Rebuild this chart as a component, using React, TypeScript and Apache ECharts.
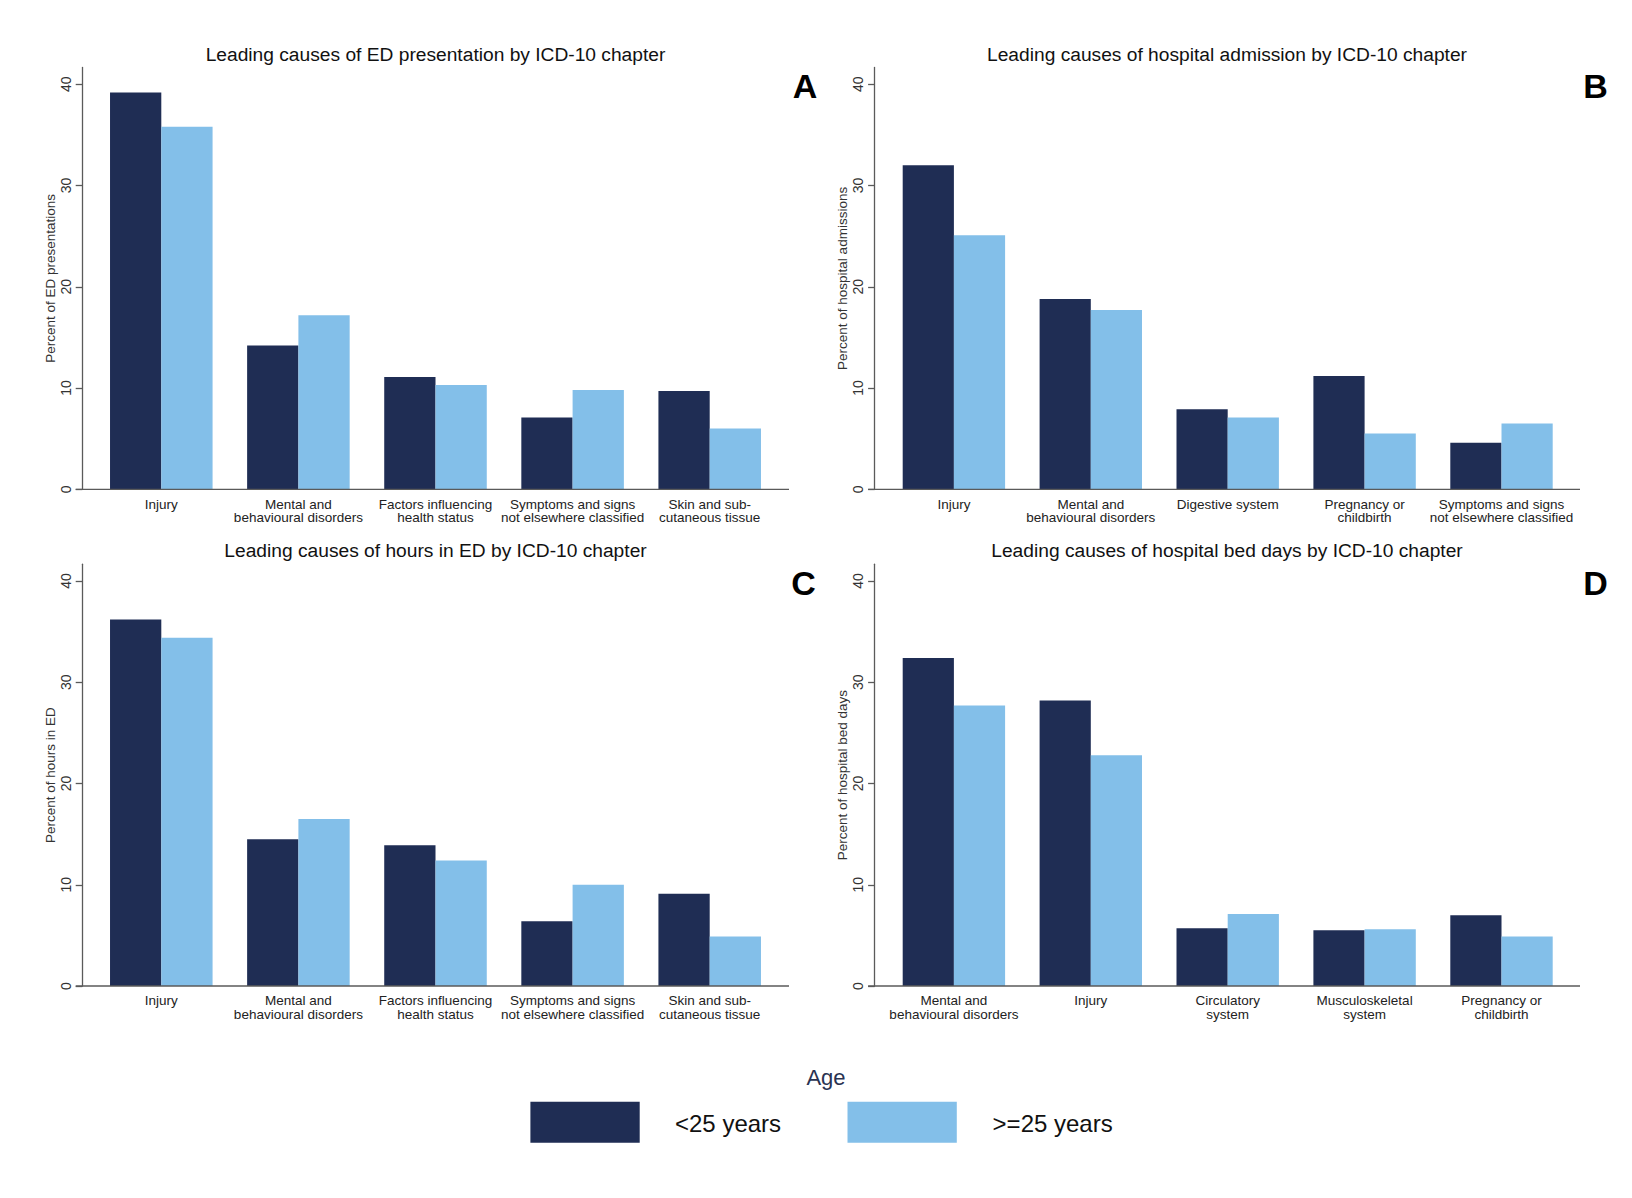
import React, { useEffect, useRef } from "react";
import * as echarts from "echarts";

// ---------- data ----------
const seriesNames = ["<25 years", ">=25 years"];

const panelTitles = [
  "Leading causes of ED presentation by ICD-10 chapter",
  "Leading causes of hospital admission by ICD-10 chapter",
  "Leading causes of hours in ED by ICD-10 chapter",
  "Leading causes of hospital bed days by ICD-10 chapter",
];
const panelLetters = ["A", "B", "C", "D"];
const yAxisNames = [
  "Percent of ED presentations",
  "Percent of hospital admissions",
  "Percent of hours in ED",
  "Percent of hospital bed days",
];

const categoriesA = [
  "Injury",
  "Mental and\nbehavioural disorders",
  "Factors influencing\nhealth status",
  "Symptoms and signs\nnot elsewhere classified",
  "Skin and sub-\ncutaneous tissue",
];
const under25A = [39.2, 14.2, 11.1, 7.1, 9.7];
const over25A = [35.8, 17.2, 10.3, 9.8, 6.0];

const categoriesB = [
  "Injury",
  "Mental and\nbehavioural disorders",
  "Digestive system",
  "Pregnancy or\nchildbirth",
  "Symptoms and signs\nnot elsewhere classified",
];
const under25B = [32.0, 18.8, 7.9, 11.2, 4.6];
const over25B = [25.1, 17.7, 7.1, 5.5, 6.5];

const categoriesC = [
  "Injury",
  "Mental and\nbehavioural disorders",
  "Factors influencing\nhealth status",
  "Symptoms and signs\nnot elsewhere classified",
  "Skin and sub-\ncutaneous tissue",
];
const under25C = [36.2, 14.5, 13.9, 6.4, 9.1];
const over25C = [34.4, 16.5, 12.4, 10.0, 4.9];

const categoriesD = [
  "Mental and\nbehavioural disorders",
  "Injury",
  "Circulatory\nsystem",
  "Musculoskeletal\nsystem",
  "Pregnancy or\nchildbirth",
];
const under25D = [32.4, 28.2, 5.7, 5.5, 7.0];
const over25D = [27.7, 22.8, 7.1, 5.6, 4.9];

const yTicks = [0, 10, 20, 30, 40];
const yMax = 41.66;

// ---------- style / layout ----------
const COLORS = ["#1f2d54", "#83bfe9"];
const FONT = "'Liberation Sans', Arial, Helvetica, sans-serif";
const AXIS_COLOR = "#5a5a5a";

const panelData = [
  { cats: categoriesA, a: under25A, b: over25A },
  { cats: categoriesB, a: under25B, b: over25B },
  { cats: categoriesC, a: under25C, b: over25C },
  { cats: categoriesD, a: under25D, b: over25D },
];

const layout = [
  { axisX: 82.3, gridLeft: 92.75, gridRight: 778.25, axisEnd: 789, zeroY: 489.3, topY: 67.5, titleX: 435.5, titleY: 54, letterX: 805, letterY: 85.5 },
  { axisX: 874.7, gridLeft: 885.45, gridRight: 1569.95, axisEnd: 1580, zeroY: 489.3, topY: 67.5, titleX: 1227, titleY: 54, letterX: 1595.6, letterY: 85.5 },
  { axisX: 82.3, gridLeft: 92.75, gridRight: 778.25, axisEnd: 789, zeroY: 986, topY: 564.2, titleX: 435.5, titleY: 550.6, letterX: 803.5, letterY: 582.9 },
  { axisX: 874.7, gridLeft: 885.45, gridRight: 1569.95, axisEnd: 1580, zeroY: 986, topY: 564.2, titleX: 1227, titleY: 550.6, letterX: 1595.6, letterY: 582.9 },
];

function buildOption() {
  const grid: any[] = [];
  const xAxis: any[] = [];
  const yAxis: any[] = [];
  const series: any[] = [];
  const graphic: any[] = [];

  layout.forEach((L, i) => {
    grid.push({
      left: L.gridLeft,
      top: L.topY,
      width: L.gridRight - L.gridLeft,
      height: L.zeroY - L.topY,
      containLabel: false,
      outerBoundsMode: "none",
    });
    xAxis.push({
      type: "category",
      gridIndex: i,
      data: panelData[i].cats,
      boundaryGap: true,
      axisLine: { show: false },
      axisTick: { show: false },
      splitLine: { show: false },
      axisLabel: {
        interval: 0,
        margin: 8,
        fontFamily: FONT,
        fontSize: 13.5,
        lineHeight: 13.5,
        color: "#222",
        align: "center",
      },
    });
    yAxis.push({
      type: "value",
      gridIndex: i,
      min: 0,
      max: yMax,
      interval: 10,
      offset: L.gridLeft - L.axisX,
      splitLine: { show: false },
      axisLine: { show: true, lineStyle: { color: AXIS_COLOR, width: 1.3 } },
      axisTick: { show: true, length: 6.6, customValues: yTicks, lineStyle: { color: AXIS_COLOR, width: 1.3 } },
      axisLabel: {
        rotate: 90,
        margin: 9.5,
        customValues: yTicks,
        fontFamily: FONT,
        fontSize: 14,
        color: "#333",
      },
      name: yAxisNames[i],
      nameLocation: "middle",
      nameGap: 25,
      nameMoveOverlap: false,
      nameTextStyle: { fontFamily: FONT, fontSize: 13.5, color: "#333" },
    });
    const vals = [panelData[i].a, panelData[i].b];
    vals.forEach((v, k) => {
      series.push({
        type: "bar",
        name: seriesNames[k],
        xAxisIndex: i,
        yAxisIndex: i,
        data: v,
        barGap: "0%",
        barCategoryGap: "25.2%",
        itemStyle: { color: COLORS[k] },
        silent: true,
      });
    });
    // x-axis baseline extending past the plot region like the original
    graphic.push({
      type: "line",
      shape: { x1: L.axisX - 6.6, y1: L.zeroY, x2: L.axisEnd, y2: L.zeroY },
      style: { stroke: AXIS_COLOR, lineWidth: 1.3 },
      z: 10,
    });
    graphic.push({
      type: "text",
      x: L.titleX,
      y: L.titleY,
      style: {
        text: panelTitles[i],
        fontFamily: FONT,
        fontSize: 19.2,
        fill: "#111",
        textAlign: "center",
        textVerticalAlign: "middle",
      },
    });
    graphic.push({
      type: "text",
      x: L.letterX,
      y: L.letterY,
      style: {
        text: panelLetters[i],
        fontFamily: FONT,
        fontSize: 34,
        fontWeight: "bold",
        fill: "#000",
        textAlign: "center",
        textVerticalAlign: "middle",
      },
    });
  });

  // legend
  graphic.push({
    type: "text",
    x: 826,
    y: 1077,
    style: {
      text: "Age",
      fontFamily: FONT,
      fontSize: 22,
      fill: "#2a3352",
      textAlign: "center",
      textVerticalAlign: "middle",
    },
  });
  const legendBoxes = [
    { x: 530.4, tx: 675 },
    { x: 847.5, tx: 992.6 },
  ];
  legendBoxes.forEach((b, k) => {
    graphic.push({
      type: "rect",
      shape: { x: b.x, y: 1101.7, width: 109.3, height: 41 },
      style: { fill: COLORS[k] },
    });
    graphic.push({
      type: "text",
      x: b.tx,
      y: 1123,
      style: {
        text: seriesNames[k],
        fontFamily: FONT,
        fontSize: 24,
        fill: "#111",
        textAlign: "left",
        textVerticalAlign: "middle",
      },
    });
  });

  return {
    animation: false,
    backgroundColor: "#ffffff",
    textStyle: { fontFamily: FONT },
    grid,
    xAxis,
    yAxis,
    series,
    graphic,
  };
}

export default function App() {
  const ref = useRef<HTMLDivElement>(null);
  useEffect(() => {
    if (!ref.current) return;
    const chart = echarts.init(ref.current, undefined, { renderer: "svg" });
    chart.setOption(buildOption() as any);
    return () => chart.dispose();
  }, []);
  return (
    <div
      ref={ref}
      style={{ position: "fixed", left: 0, top: 0, width: 1632, height: 1198, background: "#fff" }}
    />
  );
}
